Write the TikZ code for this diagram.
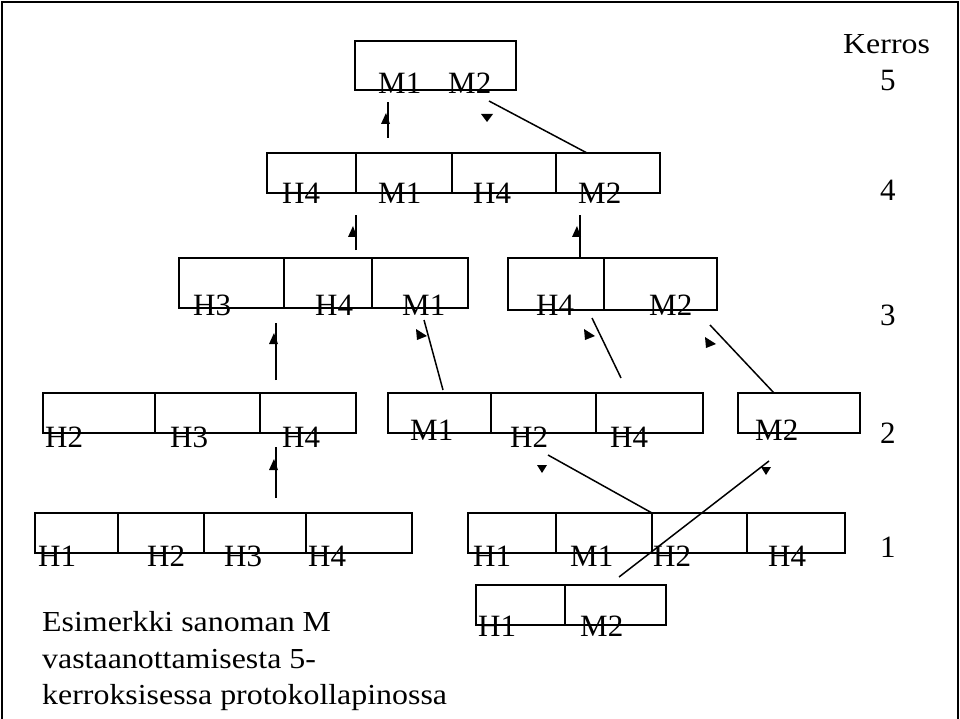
\documentclass[tikz,border=0pt]{standalone}
\usepackage{fontspec}
\setmainfont{Liberation Serif}
% slightly widened serif text for the caption
\newcommand{\wide}[1]{\scalebox{1.1}[1]{#1}}
\begin{document}
\begin{tikzpicture}[x=1pt,y=-1pt,
  cell/.style={draw, line width=1.5pt},
  lbl/.style={anchor=base west, inner sep=0pt, font=\fontsize{31}{36}\selectfont},
  note/.style={anchor=base west, inner sep=0pt, font=\fontsize{29}{34}\selectfont},
  link/.style={line width=1.5pt},
  head/.style={fill=black}]

\useasboundingbox (0,0) rectangle (960,719);
\fill[white] (0,0) rectangle (960,719);
% outer frame, open at the bottom
\draw[line width=2pt] (1.5,719) -- (1.5,2) -- (957.5,2) -- (957.5,719);

% ---------- layer 5 ----------
\draw[cell] (355,41) rectangle (516,90);
\node[lbl] (m5a) at (378,94) {M1};
\node[lbl] (m5b) at (448,94) {M2};

% ---------- layer 4 ----------
\draw[cell] (267,153) rectangle (660,193);
\draw[cell] (356,153) -- (356,193) (452,153) -- (452,193) (556,153) -- (556,193);
\node[lbl] (h4a) at (282,204) {H4};
\node[lbl] (m4a) at (378,204) {M1};
\node[lbl] (h4b) at (473,204) {H4};
\node[lbl] (m4b) at (578,204) {M2};

% ---------- layer 3 ----------
\draw[cell] (179,258) rectangle (468,308);
\draw[cell] (284,258) -- (284,308) (372,258) -- (372,308);
\node[lbl] (h3a) at (193,315) {H3};
\node[lbl] (h3b) at (315,315) {H4};
\node[lbl] (m3a) at (402,315) {M1};
\draw[cell] (508,258) rectangle (717,310);
\draw[cell] (604,258) -- (604,310);
\node[lbl] (h3c) at (536,315) {H4};
\node[lbl] (m3b) at (649,315) {M2};

% ---------- layer 2 ----------
\draw[cell] (43,393) rectangle (356,433);
\draw[cell] (155,393) -- (155,433) (260,393) -- (260,433);
\node[lbl] (h2a) at (45,447) {H2};
\node[lbl] (h2b) at (170,447) {H3};
\node[lbl] (h2c) at (282,447) {H4};
\draw[cell] (388,393) rectangle (703,433);
\draw[cell] (491,393) -- (491,433) (596,393) -- (596,433);
\node[lbl] (m2a) at (410,440) {M1};
\node[lbl] (h2d) at (510,447) {H2};
\node[lbl] (h2e) at (610,447) {H4};
\draw[cell] (738,393) rectangle (860,433);
\node[lbl] (m2b) at (755,440) {M2};

% ---------- layer 1 ----------
\draw[cell] (35,513) rectangle (412,553);
\draw[cell] (118,513) -- (118,553) (204,513) -- (204,553) (306,513) -- (306,553);
\node[lbl] (h1a) at (38,566) {H1};
\node[lbl] (h1b) at (147,566) {H2};
\node[lbl] (h1c) at (224,566) {H3};
\node[lbl] (h1d) at (308,566) {H4};
\draw[cell] (468,513) rectangle (845,553);
\draw[cell] (556,513) -- (556,553) (652,513) -- (652,553) (747,513) -- (747,553);
\node[lbl] (h1e) at (473,566) {H1};
\node[lbl] (m1a) at (570,566) {M1};
\node[lbl] (h1f) at (653,566) {H2};
\node[lbl] (h1g) at (768,566) {H4};
\draw[cell] (476,585) rectangle (666,625);
\draw[cell] (565,585) -- (565,625);
\node[lbl] (h1h) at (478,636) {H1};
\node[lbl] (m1b) at (580,636) {M2};

% ---------- layer numbers ----------
\node[note] (kerros) at (843,54) {\wide{Kerros}};
\node[lbl] (k5) at (880,91) {5};
\node[lbl] (k4) at (880,201) {4};
\node[lbl] (k3) at (880,325) {3};
\node[lbl] (k2) at (880,443) {2};
\node[lbl] (k1) at (880,557) {1};

% ---------- caption ----------
\node[note] (cap1) at (42,631) {\wide{Esimerkki sanoman M}};
\node[note] (cap2) at (42,668) {\wide{vastaanottamisesta 5-}};
\node[note] (cap3) at (42,704) {\wide{kerroksisessa protokollapinossa}};

% ---------- connectors 4 -> 5 ----------
\coordinate (a1s) at (388,138); \coordinate (a1e) at (388,102);
\draw[link] (a1s) -- (a1e);
\fill[head] (386,113) -- (381,124) -- (390,124) -- cycle;
\coordinate (a2s) at (587,153); \coordinate (a2e) at (489,101);
\draw[link] (a2s) -- (a2e);
\fill[head] (481,114) -- (493,114) -- (487,122) -- cycle;

% ---------- connectors 3 -> 4 ----------
\coordinate (b1s) at (356,250); \coordinate (b1e) at (356,215);
\draw[link] (b1s) -- (b1e);
\fill[head] (353,226) -- (348,237) -- (357,237) -- cycle;
\coordinate (b2s) at (580,258); \coordinate (b2e) at (580,215);
\draw[link] (b2s) -- (b2e);
\fill[head] (577,226) -- (572,237) -- (581,237) -- cycle;

% ---------- connectors 2 -> 3 ----------
\coordinate (c1s) at (276,380); \coordinate (c1e) at (276,323);
\draw[link] (c1s) -- (c1e);
\fill[head] (274,333) -- (269,344) -- (278,344) -- cycle;
\coordinate (c2s) at (443,390); \coordinate (c2e) at (424,320);
\draw[link] (c2s) -- (c2e);
\fill[head] (416,329) -- (417,340) -- (427,336) -- cycle;
\coordinate (c3s) at (621,378); \coordinate (c3e) at (592,318);
\draw[link] (c3s) -- (c3e);
\fill[head] (584,329) -- (585,340) -- (595,336) -- cycle;
\coordinate (c4s) at (774,393); \coordinate (c4e) at (710,325);
\draw[link] (c4s) -- (c4e);
\fill[head] (705,337) -- (706,348) -- (716,344) -- cycle;

% ---------- connectors 1 -> 2 ----------
\coordinate (d1s) at (276,498); \coordinate (d1e) at (276,447);
\draw[link] (d1s) -- (d1e);
\fill[head] (274,459) -- (269,470) -- (278,470) -- cycle;
\coordinate (d2s) at (652,513); \coordinate (d2e) at (548,455);
\draw[link] (d2s) -- (d2e);
\fill[head] (537,465) -- (547,465) -- (542,473) -- cycle;
\coordinate (d3s) at (619,577); \coordinate (d3e) at (769,461);
\draw[link] (d3s) -- (d3e);
\fill[head] (761,467) -- (771,467) -- (766,475) -- cycle;

\end{tikzpicture}
\end{document}
